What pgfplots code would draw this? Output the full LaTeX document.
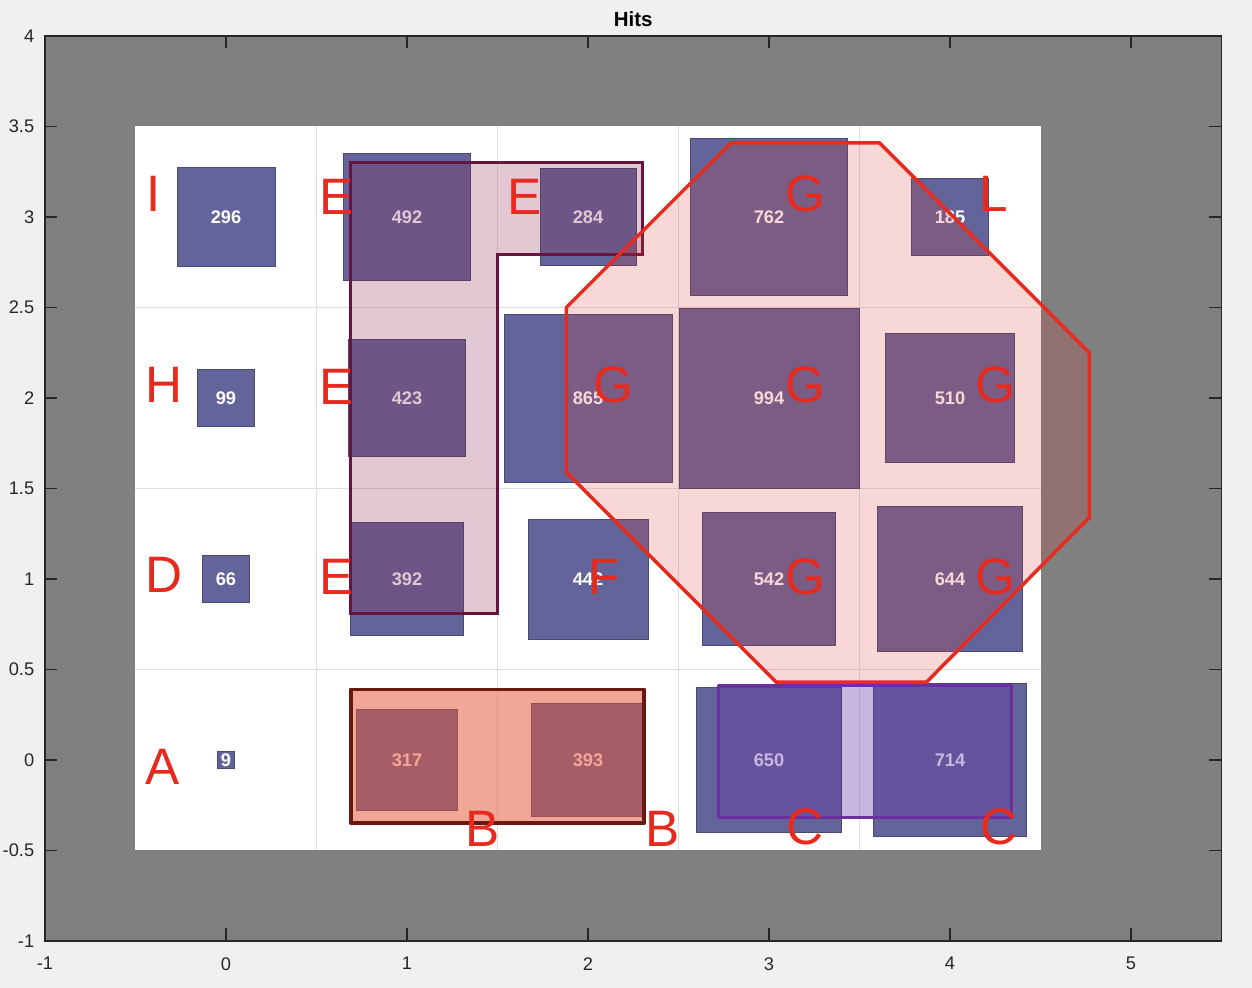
\documentclass[border=0pt]{standalone}
\usepackage{fontspec}
\setmainfont{Liberation Sans}
\usepackage{pgfplots}
\pgfplotsset{compat=1.18}
\usepackage{pgfplotstable}

\definecolor{figbg}{RGB}{240,240,240}
\definecolor{axgray}{RGB}{128,128,128}
\definecolor{axc}{RGB}{38,38,38}
\definecolor{gridc}{RGB}{222,222,226}
\definecolor{sqfill}{RGB}{99,100,154}
\definecolor{sqedge}{RGB}{72,72,112}
\definecolor{letr}{RGB}{230,42,30}
\definecolor{eFill}{RGB}{140,43,82}
\definecolor{eLine}{RGB}{104,20,62}
\definecolor{bFill}{RGB}{230,88,57}
\definecolor{bLine}{RGB}{105,25,15}
\definecolor{cFill}{RGB}{103,58,164}
\definecolor{cLine}{RGB}{106,48,160}
\definecolor{gFill}{RGB}{220,60,50}
\definecolor{gLine}{RGB}{228,44,32}

% hits per neuron
\pgfplotstableread{
x y h
0 3 296
1 3 492
2 3 284
3 3 762
4 3 185
0 2 99
1 2 423
2 2 865
3 2 994
4 2 510
0 1 66
1 1 392
2 1 442
3 1 542
4 1 644
0 0 9
1 0 317
2 0 393
3 0 650
4 0 714
}\hits

% hand-drawn annotation letters
\pgfplotstableread{
x y lab
-0.40 3.13 I
0.61 3.11 E
1.65 3.11 E
3.20 3.13 G
4.24 3.13 L
-0.34 2.07 H
0.61 2.06 E
2.14 2.07 G
3.20 2.07 G
4.25 2.07 G
-0.34 1.02 D
0.61 1.01 E
2.09 1.01 F
3.20 1.01 G
4.25 1.01 G
-0.35 -0.04 A
1.42 -0.38 B
2.41 -0.38 B
3.20 -0.37 C
4.27 -0.37 C
}\letters

\begin{document}
\begin{tikzpicture}
\path[use as bounding box, fill=figbg] (-18pt,-18.8pt) rectangle (482.8pt,376.4pt);
\begin{axis}[
  at={(0,0)}, anchor=south west,
  x=72.4pt, y=72.4pt,
  xmin=-1, xmax=5.5, ymin=-1, ymax=4,
  xtick={-1,0,1,2,3,4,5},
  ytick={-1,-0.5,0,0.5,1,1.5,2,2.5,3,3.5,4},
  tick pos=both, ticklabel pos=left,
  tick align=inside, major tick length=5pt,
  axis line style={draw=axc, line width=0.45pt},
  tick style={draw=axc, line width=0.45pt},
  axis background/.style={fill=axgray},
  axis on top,
  clip marker paths=true,
  /pgf/number format/assume math mode=true,
  tick label style={font=\fontsize{7.3}{8}\selectfont, text=axc},
  xticklabel style={yshift=-3.0pt},
  yticklabel style={xshift=-0.8pt},
  title={Hits},
  title style={font=\bfseries\fontsize{8.2}{9}\selectfont, text=black, yshift=-6pt},
]
% white map area and cell borders
\addplot[fill=white, draw=none] coordinates {(-0.5,-0.5)(4.5,-0.5)(4.5,3.5)(-0.5,3.5)} -- cycle;
\addplot[gridc, line width=0.4pt, unbounded coords=jump] coordinates {
(0.5,-0.5)(0.5,3.5)(nan,nan)(1.5,-0.5)(1.5,3.5)(nan,nan)
(2.5,-0.5)(2.5,3.5)(nan,nan)(3.5,-0.5)(3.5,3.5)(nan,nan)
(-0.5,0.5)(4.5,0.5)(nan,nan)(-0.5,1.5)(4.5,1.5)(nan,nan)
(-0.5,2.5)(4.5,2.5)};

% hit squares, side proportional to sqrt(hits)
\addplot[scatter, only marks, mark=square*,
  scatter/use mapped color={draw=sqedge, fill=sqfill},
  line width=0.3pt,
  visualization depends on={36*sqrt(\thisrow{h}/994) \as \msz},
  scatter/@pre marker code/.append style={/tikz/mark size=\msz}]
  table[x=x, y=y] {\hits};
\addplot[draw=none, mark=none, nodes near coords, point meta=explicit symbolic,
  nodes near coords style={anchor=center, text=white, inner sep=0pt,
    font=\bfseries\fontsize{7.3}{8}\selectfont}]
  table[x=x, y=y, meta=h] {\hits};

% cluster overlays
\addplot[fill=eFill, fill opacity=0.26, draw=eLine, line width=1.2pt, line join=miter]
  coordinates {(0.69,3.30)(2.30,3.30)(2.30,2.79)(1.50,2.79)(1.50,0.81)(0.69,0.81)} -- cycle;
\addplot[fill=bFill, fill opacity=0.52, draw=bLine, line width=1.5pt, line join=round]
  coordinates {(0.69,0.39)(2.31,0.39)(2.31,-0.35)(0.69,-0.35)} -- cycle;
\addplot[fill=cFill, fill opacity=0.36, draw=cLine, line width=1.2pt, line join=round]
  coordinates {(2.72,0.41)(4.34,0.41)(4.34,-0.32)(2.72,-0.32)} -- cycle;
\addplot[fill=gFill, fill opacity=0.2, draw=gLine, line width=1.4pt, line join=miter]
  coordinates {(2.79,3.41)(3.61,3.41)(4.77,2.25)(4.77,1.34)(3.87,0.43)(3.04,0.43)
    (1.88,1.59)(1.88,2.50)} -- cycle;

% letters
\addplot[draw=none, mark=none, nodes near coords, point meta=explicit symbolic,
  nodes near coords style={anchor=center, text=letr, inner sep=0pt,
    font=\fontsize{20.5}{22}\selectfont}]
  table[x=x, y=y, meta=lab] {\letters};
\end{axis}
\end{tikzpicture}
\end{document}
